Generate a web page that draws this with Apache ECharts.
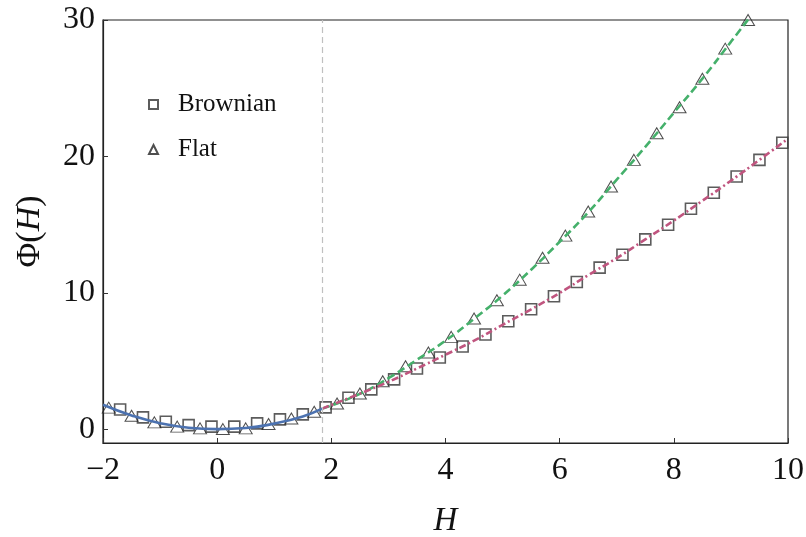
<!DOCTYPE html>
<html>
<head>
<meta charset="utf-8">
<script src="https://cdn.jsdelivr.net/npm/echarts@6/dist/echarts.min.js"></script>
<style>html,body{margin:0;padding:0;background:#fff}#c{width:806px;height:537px}</style>
</head>
<body>
<div id="c"></div>
<script>
// ---- data ----
const brownianH = [-1.7,-1.3,-0.9,-0.5,-0.1,0.3,0.7,1.1,1.5,1.9,2.3,2.7,3.1,3.5,3.9,4.3,4.7,5.1,5.5,5.9,6.3,6.7,7.1,7.5,7.9,8.3,8.7,9.1,9.5,9.9];
const brownianPhi = [1.46,0.88,0.56,0.31,0.2,0.2,0.44,0.73,1.1,1.61,2.32,2.93,3.66,4.46,5.27,6.07,6.95,7.92,8.8,9.75,10.8,11.85,12.8,13.92,15.0,16.17,17.34,18.53,19.75,21.0];
const flatH = [-1.9,-1.5,-1.1,-0.7,-0.3,0.1,0.5,0.9,1.3,1.7,2.1,2.5,2.9,3.3,3.7,4.1,4.5,4.9,5.3,5.7,6.1,6.5,6.9,7.3,7.7,8.1,8.5,8.9,9.3];
const flatPhi = [1.59,1.0,0.51,0.2,0.07,0.02,0.07,0.39,0.8,1.29,1.9,2.63,3.53,4.63,5.63,6.78,8.12,9.46,10.97,12.58,14.2,15.97,17.8,19.75,21.7,23.6,25.7,27.9,30.0];
const lowCurveH = [-2,-1.5,-1,-0.5,0,0.5,1,1.5,1.84];
const lowCurvePhi = [1.8,1.02,0.45,0.12,0.02,0.1,0.42,0.95,1.52];
const flatCurveH = [1.84,2.5,3,3.5,4,4.5,5,5.5,6,6.5,7,7.5,8,8.5,9,9.35];
const flatCurvePhi = [1.52,2.6,3.75,5.1,6.5,8.1,9.8,11.7,13.75,15.9,18.3,20.7,23.2,25.7,28.4,30.3];
const brownCurveH = [1.84,2.5,3,3.5,4,4.5,5,5.5,6,6.5,7,7.5,8,8.5,9,9.5,10];
const brownCurvePhi = [1.52,2.62,3.48,4.46,5.47,6.5,7.66,8.8,10.0,11.3,12.55,13.92,15.3,16.75,18.22,19.75,21.3];
const thresholdH = 1.84;
const yTicks = [0,10,20,30];
const seriesNames = ['Brownian','Flat'];

const zip = (a,b) => a.map((v,i) => [v,b[i]]);
const FONT = '"Liberation Serif", "DejaVu Serif", serif';

const chart = echarts.init(document.getElementById('c'), null, {renderer:'canvas'});
chart.setOption({
  animation: false,
  backgroundColor: '#fff',
  grid: {left:103, right:18, top:20, bottom:94, outerBoundsMode:'none', containLabel:false,
    show:true, borderColor:'#222', borderWidth:1.2, backgroundColor:'transparent'},
  legend: {
    data: seriesNames, orient:'vertical', left:143, top:87,
    itemWidth:9, itemHeight:9, itemGap:20,
    textStyle:{fontFamily:FONT, fontSize:25, color:'#111', lineHeight:24, padding:[0,0,0,15]}
  },
  xAxis: {
    type:'value', min:-2, max:10, interval:2,
    name:'H', nameLocation:'middle', nameGap:62,
    nameTextStyle:{fontFamily:FONT, fontSize:33, fontStyle:'italic', color:'#111'},
    axisLine:{show:true, onZero:false, lineStyle:{color:'#222', width:1.2}},
    axisTick:{show:true, inside:true, length:5, lineStyle:{color:'#333'}},
    axisLabel:{fontFamily:FONT, fontSize:32, color:'#111', margin:12,
      formatter: v => String(v).replace('-', '\u2212')},
    splitLine:{show:false}
  },
  yAxis: {
    type:'value', min:-1, max:30,
    name:'{n|Φ(}{i|H}{n|)}', nameLocation:'middle', nameGap:56, nameRotate:90,
    nameTextStyle:{rich:{
      n:{fontFamily:FONT, fontSize:34, color:'#111'},
      i:{fontFamily:FONT, fontSize:34, fontStyle:'italic', color:'#111'}
    }},
    axisLine:{show:true, onZero:false, lineStyle:{color:'#222', width:1.2}},
    axisTick:{show:true, inside:true, length:5, customValues:yTicks, lineStyle:{color:'#333'}},
    axisLabel:{fontFamily:FONT, fontSize:32, color:'#111', margin:8, customValues:yTicks},
    splitLine:{show:false}
  },
  series: [
    {
      type:'line', name:'low', data: zip(lowCurveH, lowCurvePhi), smooth:true, symbol:'none',
      lineStyle:{color:'#4c72b0', width:2.6},
      markLine:{silent:true, symbol:'none', label:{show:false},
        lineStyle:{color:'#c0c0c0', type:[6,4], width:1.2},
        data:[{xAxis:thresholdH}]}
    },
    {
      type:'line', name:'flatCurve', data: zip(flatCurveH, flatCurvePhi), smooth:true, symbol:'none',
      lineStyle:{color:'#45b06b', width:2.6, type:[8,4]}
    },
    {
      type:'line', name:'brownCurve', data: zip(brownCurveH, brownCurvePhi), smooth:true, symbol:'none',
      lineStyle:{color:'#c0557f', width:2.6, type:[7,3,2,3]}
    },
    {
      type:'scatter', name:'Brownian', data: zip(brownianH, brownianPhi),
      symbol:'rect', symbolSize:11,
      itemStyle:{color:'rgba(255,255,255,0.45)', borderColor:'#333', borderWidth:1.6}
    },
    {
      type:'scatter', name:'Flat', data: zip(flatH, flatPhi),
      symbol:'triangle', symbolSize:[13,11],
      itemStyle:{color:'rgba(255,255,255,0.2)', borderColor:'#222', borderWidth:1}
    }
  ]
});
</script>
</body>
</html>
